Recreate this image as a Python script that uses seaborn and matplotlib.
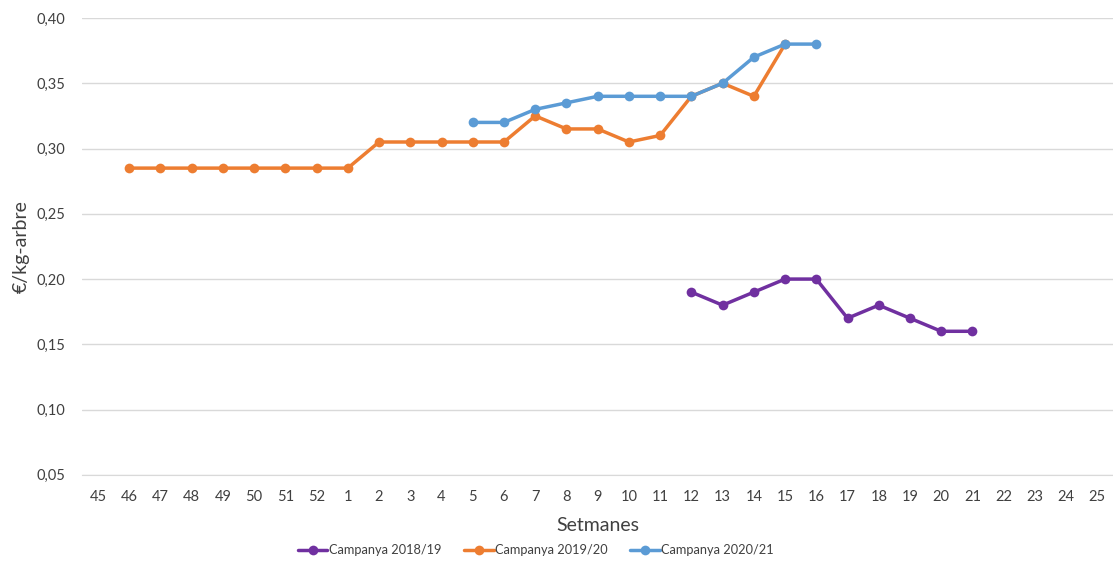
import pandas as pd
import seaborn as sns
import matplotlib.pyplot as plt
from matplotlib.ticker import FuncFormatter

# setmanes (eix de categories)
setmanes = ['45', '46', '47', '48', '49', '50', '51', '52'] + [str(i) for i in range(1, 26)]

set_1819 = ['12', '13', '14', '15', '16', '17', '18', '19', '20', '21']
preu_1819 = [0.19, 0.18, 0.19, 0.20, 0.20, 0.17, 0.18, 0.17, 0.16, 0.16]

set_1920 = ['46', '47', '48', '49', '50', '51', '52', '1', '2', '3', '4', '5', '6',
            '7', '8', '9', '10', '11', '12', '13', '14', '15']
preu_1920 = [0.285, 0.285, 0.285, 0.285, 0.285, 0.285, 0.285, 0.285, 0.305, 0.305,
             0.305, 0.305, 0.305, 0.325, 0.315, 0.315, 0.305, 0.31, 0.34, 0.35, 0.34, 0.38]

set_2021 = ['5', '6', '7', '8', '9', '10', '11', '12', '13', '14', '15', '16']
preu_2021 = [0.32, 0.32, 0.33, 0.335, 0.34, 0.34, 0.34, 0.34, 0.35, 0.37, 0.38, 0.38]

campanyes = ['Campanya 2018/19', 'Campanya 2019/20', 'Campanya 2020/21']
colors = ['#7030A0', '#ED7D31', '#5B9BD5']

frames = []
for nom, s, p in zip(campanyes, [set_1819, set_1920, set_2021], [preu_1819, preu_1920, preu_2021]):
    frames.append(pd.DataFrame({'setmana': s, 'preu': p, 'campanya': nom}))
df = pd.concat(frames, ignore_index=True)
df['pos'] = df['setmana'].map({s: i for i, s in enumerate(setmanes)})

sns.set_style('white')
plt.rcParams['font.family'] = ['Lato', 'DejaVu Sans']

fig = plt.figure(figsize=(11.13, 5.62), dpi=100)
ax = fig.add_axes([0.074, 0.155, 0.926, 0.813])

sns.lineplot(data=df, x='pos', y='preu', hue='campanya', hue_order=campanyes,
             palette=colors, marker='o', markersize=7, markeredgewidth=0,
             linewidth=2.5, ax=ax)

ax.set_xlim(-0.5, len(setmanes) - 0.5)
ax.set_ylim(0.05, 0.40)
ax.set_xticks(range(len(setmanes)))
ax.set_xticklabels(setmanes, fontsize=10.5, color='#404040')
ax.set_yticks([0.05, 0.10, 0.15, 0.20, 0.25, 0.30, 0.35, 0.40])
ax.yaxis.set_major_formatter(FuncFormatter(lambda v, _: f'{v:.2f}'.replace('.', ',')))
ax.tick_params(axis='y', labelsize=10.5, colors='#404040', length=0, pad=12)
ax.tick_params(axis='x', length=0, pad=11)
ax.grid(axis='y', color='#D9D9D9', linewidth=1)
for side in ['top', 'right', 'left']:
    ax.spines[side].set_visible(False)
ax.spines['bottom'].set_color('#D9D9D9')

ax.set_xlabel('Setmanes', fontsize=14, color='#404040', labelpad=9)
ax.set_ylabel('€/kg-arbre', fontsize=14, color='#404040', labelpad=5)

ax.legend(loc='upper center', bbox_to_anchor=(0.44, -0.127), ncol=3, frameon=False,
          fontsize=9.2, handlelength=2.3, columnspacing=1.8, handletextpad=0.1,
          labelcolor='#404040')

plt.savefig('out.png', dpi=100)
